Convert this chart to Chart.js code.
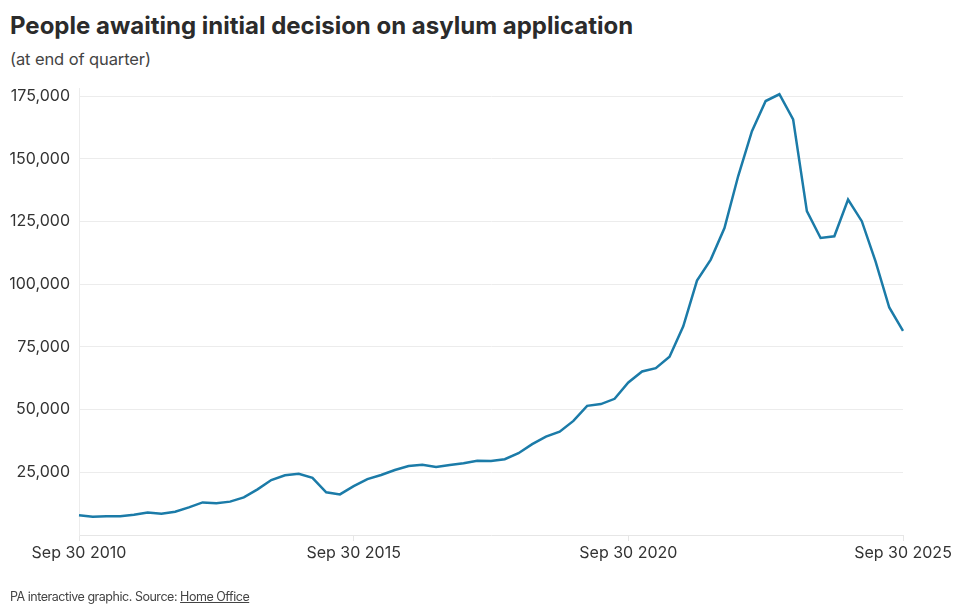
<!DOCTYPE html>
<html>
<head>
<meta charset="utf-8">
<script src="https://cdn.jsdelivr.net/npm/chart.js@4"></script>
<style>
  html, body { margin: 0; padding: 0; background: #fff; }
  body { width: 960px; height: 611px; position: relative; overflow: hidden; font-family: Inter, "Noto Sans", sans-serif; }
  #title { position: absolute; left: 10px; top: 11px; font-size: 24px; font-weight: 700; color: #2b2b2b; letter-spacing: 0px; white-space: nowrap; }
  #subtitle { position: absolute; left: 10px; top: 49px; font-size: 16.5px; color: #444; letter-spacing: -0.1px; white-space: nowrap; }
  #footer { position: absolute; left: 10px; top: 589px; font-size: 12.5px; color: #444; letter-spacing: -0.47px; white-space: nowrap; }
  #footer span { text-decoration: underline; }
  #wrap { position: absolute; left: 0; top: 0; width: 960px; height: 611px; }
</style>
</head>
<body>
<div id="title">People awaiting initial decision on asylum application</div>
<div id="subtitle">(at end of quarter)</div>
<div id="wrap"><canvas id="c"></canvas></div>
<div id="footer">PA interactive graphic. Source: <span>Home Office</span></div>
<script>
// Quarter-end dates, Sep 2010 to Sep 2025
const months = ["Mar 31", "Jun 30", "Sep 30", "Dec 31"];
const quarters = [];
for (let y = 2010; y <= 2025; y++) {
  for (let q = 0; q < 4; q++) {
    if (y === 2010 && q < 2) continue;
    if (y === 2025 && q > 2) continue;
    quarters.push(months[q] + " " + y);
  }
}
// People awaiting initial decision
const awaiting = [
  7900, 7300, 7500, 7500, 8100, 9000, 8500, 9300, 11000, 13000,
  12700, 13300, 15000, 18200, 21900, 23800, 24400, 22800, 17000, 16200,
  19500, 22300, 23900, 25900, 27500, 28000, 27100, 27900, 28600, 29600,
  29500, 30200, 32600, 36200, 39200, 41200, 45500, 51500, 52200, 54300,
  60800, 65200, 66500, 71100, 83200, 101400, 109800, 122400, 143100, 161000,
  173000, 175700, 165700, 129100, 118400, 119100, 133700, 125100, 109100, 90700,
  81400
];
const yTicks = [25000, 50000, 75000, 100000, 125000, 150000, 175000];
const xTickLabels = ["Sep 30 2010", "Sep 30 2015", "Sep 30 2020", "Sep 30 2025"];

const textColor = "#333";
const gridColor = "#ececec";

new Chart(document.getElementById("c"), {
  type: "line",
  data: {
    labels: quarters,
    datasets: [{
      data: awaiting,
      borderColor: "#1b7ba8",
      borderWidth: 2.5,
      pointRadius: 0,
      tension: 0,
      fill: false
    }]
  },
  options: {
    responsive: true,
    maintainAspectRatio: false,
    animation: false,
    layout: { padding: { top: 88.5, left: 0, right: 57, bottom: 41 } },
    plugins: { legend: { display: false }, tooltip: { enabled: false } },
    scales: {
      x: {
        type: "category",
        offset: false,
        afterFit: (s) => { s.height = 35; },
        border: { display: true, color: "#e6e6e6", width: 1 },
        grid: {
          drawOnChartArea: false,
          drawTicks: true,
          tickLength: 6,
          color: (ctx) => (xTickLabels.includes(quarters[ctx.index]) ? "#e6e6e6" : "rgba(0,0,0,0)")
        },
        ticks: {
          autoSkip: false,
          maxRotation: 0,
          padding: 3,
          color: textColor,
          font: { family: "Inter", size: 16 },
          callback: function (v, i) {
            const l = quarters[i];
            return xTickLabels.includes(l) ? l : "";
          }
        }
      },
      y: {
        min: 0,
        max: 178000,
        afterFit: (s) => { s.width = 79; },
        afterBuildTicks: (s) => { s.ticks = yTicks.map(v => ({ value: v })); },
        border: { display: true, color: "#ececec", width: 1 },
        grid: { color: gridColor, drawTicks: false, lineWidth: 1 },
        ticks: {
          padding: 9,
          color: textColor,
          font: { family: "Inter", size: 16 },
          callback: (v) => v.toLocaleString("en-GB")
        }
      }
    }
  }
});
</script>
</body>
</html>
